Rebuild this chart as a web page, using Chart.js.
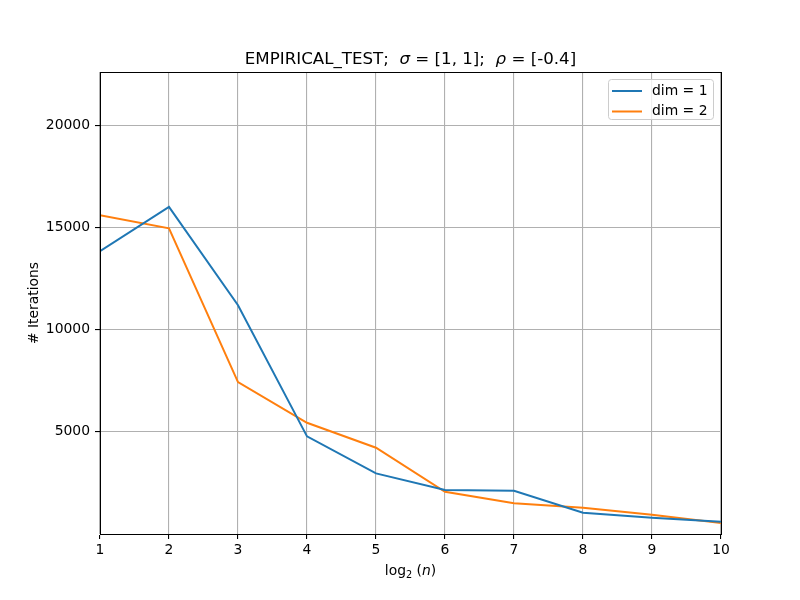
<!DOCTYPE html>
<html>
<head>
<meta charset="utf-8">
<script src="https://cdn.jsdelivr.net/npm/chart.js@4.4.0/dist/chart.umd.min.js"></script>
<style>
html,body{margin:0;padding:0;background:#fff;}
canvas{display:block;}
</style>
</head>
<body>
<canvas id="c" width="800" height="600"></canvas>
<script>
// ---- data ----
const xValues = [1, 2, 3, 4, 5, 6, 7, 8, 9, 10];
const dim1 = [13830, 16000, 11190, 4775, 2967, 2150, 2117, 1041, 797, 601];
const dim2 = [15590, 14956, 7430, 5440, 4218, 2068, 1500, 1286, 943, 537];
const seriesLabels = ['dim = 1', 'dim = 2'];
const yTickValues = [5000, 10000, 15000, 20000];
const xTickValues = [1, 2, 3, 4, 5, 6, 7, 8, 9, 10];
const yLimits = [0, 22600];

const FONT = '"DejaVu Sans", sans-serif';
const TICK_PX = 13.9;

function pts(arr) { return xValues.map((x, i) => ({x: x, y: arr[i]})); }

const decorPlugin = {
  id: 'decor',
  afterDraw(chart) {
    const ctx = chart.ctx;
    const a = chart.chartArea;
    ctx.save();
    // spines
    ctx.strokeStyle = '#000';
    ctx.lineWidth = 1;
    ctx.strokeRect(Math.round(a.left) + 0.5, Math.round(a.top) + 0.5,
                   Math.round(a.right - a.left), Math.round(a.bottom - a.top));
    // title
    const cx = (a.left + a.right) / 2;
    const parts = [
      ['EMPIRICAL_TEST;  ', 'normal'],
      ['σ', 'italic'],
      [' = [1, 1];  ', 'normal'],
      ['ρ', 'italic'],
      [' = [-0.4]', 'normal']
    ];
    const tsize = 16.67;
    let total = 0;
    parts.forEach(p => { ctx.font = p[1] + ' ' + tsize + 'px ' + FONT; total += ctx.measureText(p[0]).width; });
    let x = cx - total / 2;
    ctx.fillStyle = '#000';
    ctx.textBaseline = 'alphabetic';
    ctx.textAlign = 'left';
    parts.forEach(p => {
      ctx.font = p[1] + ' ' + tsize + 'px ' + FONT;
      ctx.fillText(p[0], x, 64);
      x += ctx.measureText(p[0]).width;
    });
    // x label: log2(n)
    const xl = [
      ['log', 'normal', TICK_PX, 0],
      ['2', 'normal', TICK_PX * 0.7, 3],
      [' (', 'normal', TICK_PX, 0],
      ['n', 'italic', TICK_PX, 0],
      [')', 'normal', TICK_PX, 0]
    ];
    total = 0;
    xl.forEach(p => { ctx.font = p[1] + ' ' + p[2] + 'px ' + FONT; total += ctx.measureText(p[0]).width; });
    x = cx - total / 2;
    xl.forEach(p => {
      ctx.font = p[1] + ' ' + p[2] + 'px ' + FONT;
      ctx.fillText(p[0], x, 575 + p[3]);
      x += ctx.measureText(p[0]).width;
    });
    // y label
    ctx.save();
    ctx.translate(34, (a.top + a.bottom) / 2);
    ctx.rotate(-Math.PI / 2);
    ctx.textAlign = 'center';
    ctx.textBaseline = 'middle';
    ctx.font = 'normal ' + TICK_PX + 'px ' + FONT;
    ctx.fillText('# Iterations', 0, 0);
    ctx.restore();
    // legend
    const lx = 608, ly = 79, lw = 105, lh = 40;
    ctx.fillStyle = 'rgba(255,255,255,0.8)';
    ctx.strokeStyle = '#cccccc';
    ctx.lineWidth = 1;
    ctx.beginPath();
    if (ctx.roundRect) ctx.roundRect(lx + 0.5, ly + 0.5, lw, lh, 3); else ctx.rect(lx + 0.5, ly + 0.5, lw, lh);
    ctx.fill();
    ctx.stroke();
    chart.data.datasets.forEach((ds, i) => {
      const yy = 91 + i * 20.5;
      ctx.strokeStyle = ds.borderColor;
      ctx.lineWidth = 2;
      ctx.beginPath();
      ctx.moveTo(612, yy);
      ctx.lineTo(642, yy);
      ctx.stroke();
      ctx.fillStyle = '#000';
      ctx.font = 'normal ' + TICK_PX + 'px ' + FONT;
      ctx.textAlign = 'left';
      ctx.textBaseline = 'middle';
      ctx.fillText(ds.label, 652, yy);
    });
    ctx.restore();
  }
};

new Chart(document.getElementById('c'), {
  type: 'line',
  data: {
    datasets: [
      {label: seriesLabels[0], data: pts(dim1), borderColor: '#1f77b4', backgroundColor: '#1f77b4', borderWidth: 2, pointRadius: 0, tension: 0, fill: false},
      {label: seriesLabels[1], data: pts(dim2), borderColor: '#ff7f0e', backgroundColor: '#ff7f0e', borderWidth: 2, pointRadius: 0, tension: 0, fill: false}
    ]
  },
  options: {
    responsive: false,
    animation: false,
    events: [],
    layout: {padding: {top: 72, right: 79, bottom: 36, left: 0}},
    plugins: {legend: {display: false}, title: {display: false}, tooltip: {enabled: false}},
    scales: {
      x: {
        type: 'linear',
        min: 1, max: 10,
        afterFit(s) { s.height = 30; },
        afterBuildTicks(s) { s.ticks = xTickValues.map(v => ({value: v})); },
        grid: {color: '#b0b0b0', lineWidth: 1.1, tickColor: '#000', tickLength: 5, drawTicks: true},
        border: {display: true, color: '#000', width: 1},
        ticks: {color: '#000', font: {family: FONT, size: TICK_PX}, padding: 3, maxRotation: 0, autoSkip: false,
                callback: v => String(v)}
      },
      y: {
        type: 'linear',
        min: yLimits[0], max: yLimits[1],
        afterFit(s) { s.width = 100; },
        afterBuildTicks(s) { s.ticks = yTickValues.map(v => ({value: v})); },
        grid: {color: '#b0b0b0', lineWidth: 1.1, tickColor: '#000', tickLength: 5, drawTicks: true},
        border: {display: true, color: '#000', width: 1},
        ticks: {color: '#000', font: {family: FONT, size: TICK_PX}, padding: 5, autoSkip: false,
                callback: v => String(v)}
      }
    }
  },
  plugins: [decorPlugin]
});
</script>
</body>
</html>
